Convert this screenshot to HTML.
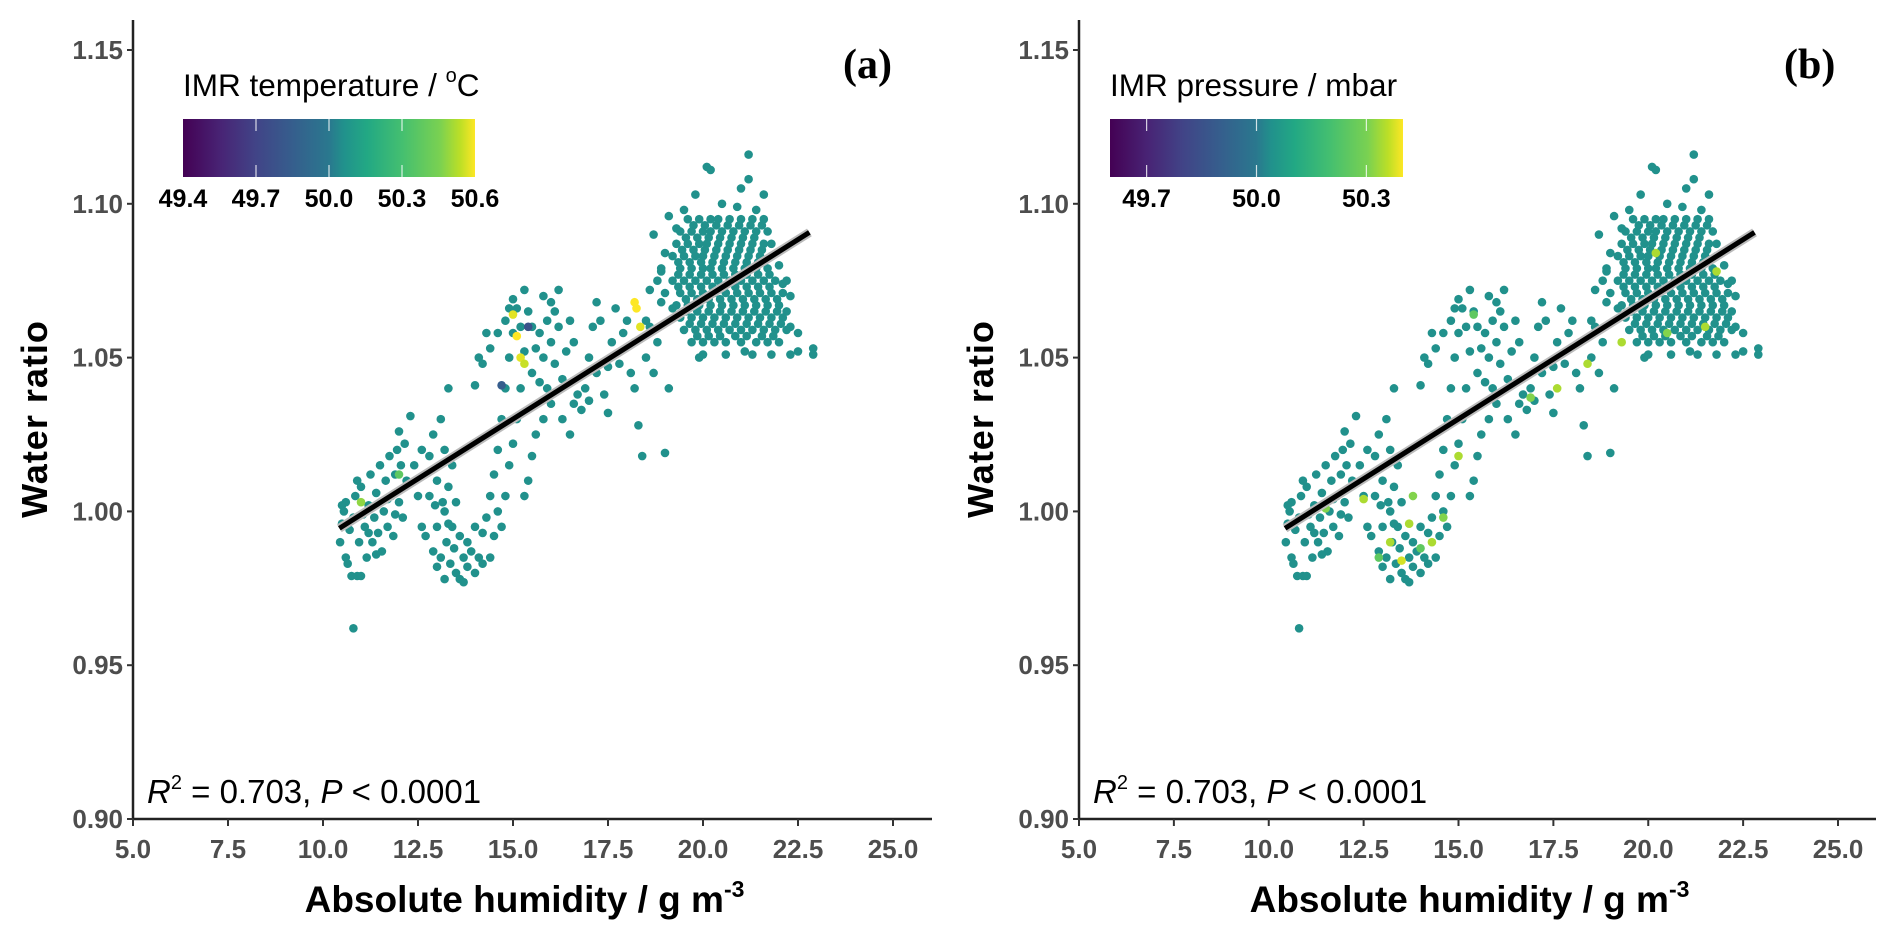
<!DOCTYPE html>
<html><head><meta charset="utf-8"><style>
html,body{margin:0;padding:0;background:#fff;}
svg{display:block;}
</style></head><body>
<svg id="chart" width="1892" height="939" viewBox="0 0 1892 939" xmlns="http://www.w3.org/2000/svg" font-family="Liberation Sans, sans-serif">
<defs>
<linearGradient id="viridis" x1="0" x2="1" y1="0" y2="0">
<stop offset="0" stop-color="#440154"/><stop offset="0.13" stop-color="#482475"/><stop offset="0.25" stop-color="#414487"/><stop offset="0.38" stop-color="#355f8d"/><stop offset="0.5" stop-color="#2a788e"/><stop offset="0.55" stop-color="#21918c"/><stop offset="0.63" stop-color="#22a884"/><stop offset="0.75" stop-color="#44bf70"/><stop offset="0.88" stop-color="#7ad151"/><stop offset="0.95" stop-color="#bddf26"/><stop offset="1" stop-color="#fde725"/>
</linearGradient>
</defs>
<g id="panelA"></g>
<g id="panelB"></g>
</svg>
<script>
// ---- data ----
const scatterPts = [
[10.45,0.990],[10.5,0.996],[10.55,1.000],[10.6,0.985],[10.6,1.003],[10.7,0.994],[10.75,0.979],[10.8,0.998],[10.85,1.005],[10.9,0.979],[10.95,0.990],[11.0,0.979],[11.0,1.008],[11.1,0.995],[11.15,0.985],[11.2,1.002],[11.25,1.012],[11.3,0.990],[11.35,0.998],[11.4,1.006],[11.45,0.993],[11.5,1.015],[11.55,0.987],[11.6,1.000],[11.65,1.010],[11.7,0.995],[11.75,1.018],[11.8,1.005],[11.85,0.992],[11.9,1.012],[11.95,1.020],[12.0,1.003],[12.05,1.015],[12.1,0.998],[12.15,1.022],[12.2,1.010],[10.8,0.962],[10.65,0.983],[11.05,0.999],[11.4,0.986],[11.7,1.004],[12.3,1.031],[12.0,1.026],[11.9,0.999],[10.5,1.002],[10.9,1.010],[11.2,0.993],
[12.4,1.015],[12.5,1.005],[12.6,0.995],[12.6,1.020],[12.7,0.992],[12.8,1.018],[12.9,0.987],[12.9,1.025],[13.0,0.995],[13.0,1.010],[13.1,0.985],[13.1,1.030],[13.2,1.000],[13.2,1.020],[13.25,0.990],[13.3,1.040],[13.3,1.008],[13.35,0.983],[13.4,1.015],[13.4,0.995],[13.5,0.980],[13.5,1.003],[13.6,0.978],[13.6,0.992],[13.7,0.985],[13.7,0.977],[13.8,0.990],[13.8,0.982],[13.9,0.987],[14.0,0.980],[14.0,0.995],[14.1,0.985],[14.2,0.993],[14.2,0.983],[13.3,0.996],[13.15,1.003],[12.95,1.002],[13.45,0.988],[13.0,0.982],[13.2,0.978],[12.8,1.005],
[14.3,0.998],[14.4,1.005],[14.4,0.985],[14.5,0.992],[14.5,1.012],[14.6,1.000],[14.6,1.020],[14.7,0.995],[14.7,1.030],[14.8,1.005],[14.8,1.040],[14.9,1.015],[14.9,1.050],[15.0,1.022],[15.0,1.058],[15.1,1.030],[15.1,1.066],[15.2,1.040],[15.2,1.060],[15.3,1.052],[14.2,1.048],[14.3,1.058],[14.4,1.053],[14.6,1.058],[14.0,1.041],[14.1,1.050],
[14.8,1.062],[14.9,1.066],[15.0,1.069],[15.3,1.072],[15.4,1.065],[15.5,1.060],[15.6,1.053],[15.7,1.058],[15.8,1.050],[15.9,1.062],[16.0,1.055],[16.1,1.048],[16.2,1.060],[16.3,1.043],[16.4,1.052],[15.5,1.045],[15.7,1.042],[15.9,1.040],[16.0,1.068],[16.2,1.072],[16.5,1.062],[16.6,1.055],[16.7,1.038],[16.8,1.033],[16.9,1.040],[17.0,1.036],[17.0,1.050],[17.1,1.060],[17.2,1.045],[17.3,1.062],[17.4,1.038],[17.5,1.047],[17.6,1.055],[17.7,1.066],[17.8,1.048],[17.9,1.058],[18.0,1.062],[18.1,1.045],[18.2,1.055],[18.3,1.028],[18.4,1.018],[18.5,1.050],[18.6,1.060],[18.7,1.045],[18.8,1.055],[19.0,1.019],[19.1,1.040],[18.9,1.068],[16.3,1.030],[16.5,1.025],[16.6,1.035],[15.8,1.030],[15.6,1.025],[15.5,1.018],[15.4,1.010],[15.3,1.005],[16.0,1.035],[17.5,1.032],[18.2,1.040],[16.1,1.065],[15.8,1.070],[17.2,1.068],
[20.1,1.112],[20.2,1.111],[21.0,1.105],[21.2,1.116],[21.2,1.108],[20.5,1.100],[21.6,1.103],[19.5,1.098],[19.8,1.103],[20.9,1.099],[21.4,1.098],[19.3,1.092],
[22.3,1.060],[22.5,1.058],[22.5,1.052],[22.9,1.053],[22.9,1.051],[22.2,1.065],[22.3,1.070],[19.0,1.084],[18.9,1.078],[18.7,1.090],[19.1,1.096],[18.6,1.072],[18.5,1.062],[19.2,1.066],[18.8,1.075],[22.0,1.080],[22.1,1.074],[19.9,1.050],[21.1,1.052]
];
const clusterRowY = [1.095,1.093,1.091,1.089,1.087,1.085,1.083,1.081,1.079,1.077,1.075,1.073,1.071,1.069,1.067,1.065,1.063,1.061,1.059,1.057,1.055,1.051];
const clusterRowX = [
[19.6,19.9,20.2,20.4,20.7,21.0,21.3,21.6],
[19.75,20.05,20.35,20.65,20.95,21.25,21.55],
[19.4,19.7,20.0,20.2,20.5,20.8,21.1,21.4,21.7],
[19.55,19.85,20.15,20.45,20.75,21.05,21.35],
[19.3,19.6,19.9,20.1,20.4,20.7,21.0,21.3,21.6,21.8],
[19.45,19.75,20.05,20.35,20.65,20.95,21.25,21.55],
[19.2,19.5,19.8,20.0,20.3,20.6,20.9,21.2,21.5,21.8],
[19.35,19.65,19.95,20.25,20.55,20.85,21.15,21.45],
[18.9,19.4,19.7,20.0,20.2,20.5,20.8,21.1,21.4,21.7],
[19.35,19.65,19.95,20.25,20.55,20.85,21.15,21.45,21.75],
[19.2,19.5,19.8,20.1,20.4,20.7,21.0,21.3,21.6,21.9,22.2],
[19.35,19.65,19.95,20.25,20.55,20.85,21.15,21.45,21.75],
[19.0,19.4,19.7,20.0,20.3,20.6,20.9,21.2,21.5,21.8,22.1],
[19.55,19.85,20.15,20.45,20.75,21.05,21.35,21.65,21.95],
[19.3,19.6,19.9,20.2,20.5,20.8,21.1,21.4,21.7,22.0],
[19.55,19.85,20.15,20.45,20.75,21.05,21.35,21.65,21.95],
[19.4,19.7,20.0,20.3,20.6,20.9,21.2,21.5,21.8,22.1],
[19.65,19.95,20.25,20.55,20.85,21.15,21.45,21.75,22.05],
[19.5,19.8,20.1,20.4,20.7,21.0,21.3,21.6,21.9,22.2],
[19.85,20.15,20.45,20.85,21.15,21.55,21.85],
[19.7,20.0,20.3,20.6,21.0,21.4,21.7,22.0],
[20.0,20.6,21.3,21.8,22.3]
];
const baseTemp = 50.0;
const basePress = 50.0;
const tempHighlights = [[15.1,1.057,50.6],[15.2,1.050,50.55],[15.3,1.048,50.5],[15.0,1.064,50.55],[18.25,1.066,50.6],[18.35,1.060,50.55],[18.2,1.068,50.6],[11.0,1.003,50.4],[12.0,1.012,50.3],[14.7,1.041,49.75],[15.4,1.060,49.7],[20.8,1.075,49.7]];
const pressHighlights = [[13.2,0.990,50.3],[13.5,0.984,50.35],[13.7,0.996,50.3],[14.0,0.988,50.2],[14.3,0.990,50.3],[14.6,0.998,50.25],[15.0,1.018,50.3],[13.8,1.005,50.25],[12.9,0.985,50.2],[17.6,1.040,50.3],[18.4,1.048,50.3],[19.3,1.055,50.3],[20.5,1.058,50.25],[21.5,1.060,50.3],[21.8,1.078,50.3],[16.9,1.037,50.25],[15.4,1.064,50.2],[20.2,1.084,50.3],[11.5,1.001,50.25],[12.5,1.004,50.3]];
const xTicks = [5.0,7.5,10.0,12.5,15.0,17.5,20.0,22.5,25.0];
const yTicks = [0.90,0.95,1.00,1.05,1.10,1.15];
const fitX = [10.43,22.8];
const fitY = [0.9945,1.0907];
const tempTicks = [49.4,49.7,50.0,50.3,50.6];
const pressTicks = [49.7,50.0,50.3];

// ---- helpers ----
const NS = "http://www.w3.org/2000/svg";
function mk(tag, attrs, parent, text){
  const e = document.createElementNS(NS, tag);
  for (const k in attrs) e.setAttribute(k, attrs[k]);
  if (text !== undefined) e.textContent = text;
  parent.appendChild(e);
  return e;
}
const VIR = ["#440154","#482475","#414487","#355f8d","#2a788e","#21918c","#22a884","#44bf70","#7ad151","#bddf26","#fde725"];
function hex(c){return [parseInt(c.slice(1,3),16),parseInt(c.slice(3,5),16),parseInt(c.slice(5,7),16)];}
function viridis(t){
  t = Math.max(0, Math.min(1, t));
  const f = t*(VIR.length-1), i = Math.min(Math.floor(f), VIR.length-2), r = f-i;
  const a = hex(VIR[i]), b = hex(VIR[i+1]);
  return "rgb(" + a.map((v,k)=>Math.round(v+(b[k]-v)*r)).join(",") + ")";
}

const allX = [], allY = [];
scatterPts.forEach(p => { allX.push(p[0]); allY.push(p[1]); });
clusterRowY.forEach((yv, r) => clusterRowX[r].forEach(xv => { allX.push(xv); allY.push(yv); }));

function drawPanel(g, cfg){
  const x0 = cfg.x0, x25 = cfg.x25;
  const X = v => x0 + (v-5)*(x25-x0)/20;
  const Y = v => 819 - (v-0.9)*(819-50)/0.25;
  const cmin = cfg.cmin, cmax = cfg.cmax;
  const C = v => viridis((v-cmin)/(cmax-cmin));
  const pg = mk("g", {}, g);
  
  
  for (let i = 0; i < allX.length; i++){
    const c = mk("circle", {cx: X(allX[i]), cy: Y(allY[i]), r: 4.3, fill: C(cfg.base)}, pg);
    
    
  }
  cfg.hi.forEach(h => {
    const c = mk("circle", {cx: X(h[0]), cy: Y(h[1]), r: 4.3, fill: C(h[2])}, pg);
    
    
  });
  mk("line", {x1: X(fitX[0]), y1: Y(fitY[0]), x2: X(fitX[1]), y2: Y(fitY[1]), stroke: "#bbb", "stroke-width": 9}, g);
  const fl = mk("line", {x1: X(fitX[0]), y1: Y(fitY[0]), x2: X(fitX[1]), y2: Y(fitY[1]), stroke: "#000", "stroke-width": 5}, g);
  
  
  const ya = mk("line", {x1: x0, y1: 20, x2: x0, y2: 820, stroke: "#222", "stroke-width": 2.5}, g);
  
  
  const xa = mk("line", {x1: x0-1, y1: 819, x2: cfg.xEnd, y2: 819, stroke: "#222", "stroke-width": 2.5}, g);
  
  
  yTicks.forEach(t => {
    mk("line", {x1: x0-6, y1: Y(t), x2: x0, y2: Y(t), stroke: "#333", "stroke-width": 2}, g);
    const tl = mk("text", {x: x0-10, y: Y(t)+9, "text-anchor": "end", "font-size": 26, "font-weight": "bold", fill: "#4d4d4d"}, g, t.toFixed(2));
    
    
  });
  xTicks.forEach(t => {
    mk("line", {x1: X(t), y1: 819, x2: X(t), y2: 826, stroke: "#333", "stroke-width": 2}, g);
    const tl = mk("text", {x: X(t), y: 858, "text-anchor": "middle", "font-size": 26, "font-weight": "bold", fill: "#4d4d4d"}, g, t.toFixed(1));
    
    
  });
  const xt = mk("text", {x: (x0+cfg.xEnd)/2 - 8, y: 912, "text-anchor": "middle", "font-size": 37, "font-weight": "bold", fill: "#000"}, g);
  
  
  xt.appendChild(document.createTextNode("Absolute humidity / g m"));
  mk("tspan", {dy: -15, "font-size": 23}, xt, "-3");
  const yt = mk("text", {x: 0, y: 0, transform: "translate(" + (x0-86) + ",419) rotate(-90)", "text-anchor": "middle", "font-size": 36, "font-weight": "bold", fill: "#000", "letter-spacing": "1"}, g, "Water ratio");
  
  
  const st = mk("text", {x: x0+14, y: 803, "font-size": 33, fill: "#000"}, g);
  
  
  mk("tspan", {"font-style": "italic"}, st, "R");
  mk("tspan", {dy: -14, "font-size": 20}, st, "2");
  mk("tspan", {dy: 14}, st, " = 0.703, ");
  mk("tspan", {"font-style": "italic"}, st, "P");
  mk("tspan", {}, st, " < 0.0001");
  const pl = mk("text", {x: cfg.labelX, y: 78, "font-family": "Liberation Serif, serif", "font-size": 42, "font-weight": "bold", fill: "#000"}, g, cfg.label);
  
  
  const lt = mk("text", {x: cfg.cbX0, y: 96, "font-size": 31.5, fill: "#000"}, g);
  
  
  lt.appendChild(document.createTextNode(cfg.cbTitle));
  if (cfg.degree){
    mk("tspan", {dy: -14, "font-size": 20}, lt, "o");
    mk("tspan", {dy: 14}, lt, "C");
  }
  const cb = mk("rect", {x: cfg.cbX0, y: 119, width: cfg.cbX1-cfg.cbX0, height: 58, fill: "url(#viridis)"}, g);
  
  
  const CB = v => cfg.cbX0 + (v-cmin)/(cmax-cmin)*(cfg.cbX1-cfg.cbX0);
  cfg.cbTicks.forEach(t => {
    const xx = CB(t);
    if (xx > cfg.cbX0+2 && xx < cfg.cbX1-2){
      mk("line", {x1: xx, y1: 119, x2: xx, y2: 131, stroke: "#fff", "stroke-width": 1.2, opacity: 0.8}, g);
      mk("line", {x1: xx, y1: 165, x2: xx, y2: 177, stroke: "#fff", "stroke-width": 1.2, opacity: 0.8}, g);
    }
    const tl = mk("text", {x: xx, y: 207, "text-anchor": "middle", "font-size": 25, "font-weight": "bold", fill: "#000"}, g, t.toFixed(1));
    
    
  });
}

drawPanel(document.getElementById("panelA"), {x0: 133, x25: 893, xEnd: 932, cmin: 49.4, cmax: 50.6, base: baseTemp, hi: tempHighlights, label: "(a)", labelX: 843, cbX0: 183, cbX1: 475, cbTitle: "IMR temperature / ", degree: true, cbTicks: tempTicks});
drawPanel(document.getElementById("panelB"), {x0: 1079, x25: 1838, xEnd: 1876, cmin: 49.6, cmax: 50.4, base: basePress, hi: pressHighlights, label: "(b)", labelX: 1784, cbX0: 1110, cbX1: 1403, cbTitle: "IMR pressure / mbar", degree: false, cbTicks: pressTicks});
</script>
</body></html>
